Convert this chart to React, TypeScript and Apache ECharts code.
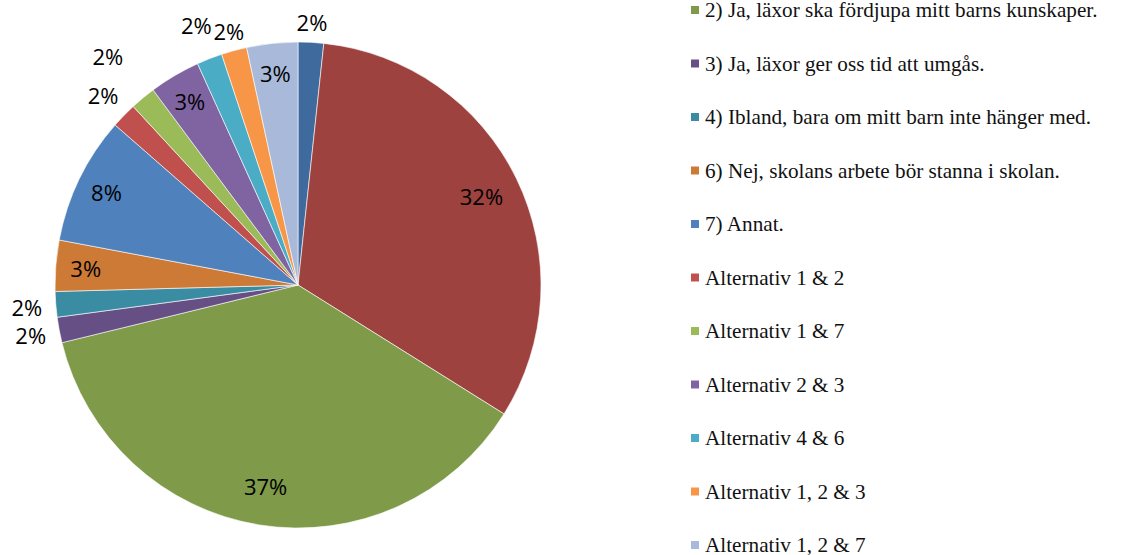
import React, { useEffect, useRef } from "react";
import * as echarts from "echarts";

const categories = [
  "Ej svar",
  "1) Ja, läxor ska repetera det barnet lärt sig i skolan.",
  "2) Ja, läxor ska fördjupa mitt barns kunskaper.",
  "3) Ja, läxor ger oss tid att umgås.",
  "4) Ibland, bara om mitt barn inte hänger med.",
  "6) Nej, skolans arbete bör stanna i skolan.",
  "7) Annat.",
  "Alternativ 1 & 2",
  "Alternativ 1 & 7",
  "Alternativ 2 & 3",
  "Alternativ 4 & 6",
  "Alternativ 1, 2 & 3",
  "Alternativ 1, 2 & 7",
];
const counts = [1, 19, 22, 1, 1, 2, 5, 1, 1, 2, 1, 1, 2];
const colors = [
  "#3E6A9D", "#9D423F", "#7F9A48", "#664F84", "#3A8CA3", "#CD7A37",
  "#4F81BD", "#C0504D", "#9BBB59", "#8064A2", "#4BACC6", "#F79646", "#A8B9D9",
];
// which label ring each percentage label sits on
const labelPlace = [
  "outA", "inBig", "inBig", "outB", "outB", "in", "in", "outB", "outD", "in", "outC", "outA", "in",
];
const legendNames = categories.slice(2);

export default function App() {
  const ref = useRef<HTMLDivElement>(null);
  useEffect(() => {
    if (!ref.current) return;
    const chart = echarts.init(ref.current, null, { renderer: "svg" });
    const center = [298, 285];
    const labelFont = {
      fontFamily: "Open Sans",
      fontSize: 22,
      color: "#000",
    };
    const ringSeries = (place: string, radius: number[]) => ({
      type: "pie",
      center,
      radius,
      startAngle: 90,
      clockwise: true,
      silent: true,
      avoidLabelOverlap: false,
      percentPrecision: 0,
      itemStyle: { color: "rgba(0,0,0,0)", borderWidth: 0 },
      labelLine: { show: false },
      emphasis: { disabled: true },
      data: counts.map((v, i) => ({
        name: categories[i],
        value: v,
        label: {
          show: labelPlace[i] === place,
          position: "inside",
          formatter: "{d}%",
          ...labelFont,
        },
      })),
    });
    chart.setOption({
      animation: false,
      backgroundColor: "#ffffff",
      legend: {
        orient: "vertical",
        left: 689,
        top: -2,
        height: 900,
        padding: 0,
        itemGap: 29.5,
        itemWidth: 10,
        itemHeight: 10,
        icon: "rect",
        selectedMode: false,
        data: legendNames,
        textStyle: {
          fontFamily: "Liberation Serif",
          fontSize: 21.2,
          lineHeight: 24,
          color: "#111",
        },
      },
      series: [
        {
          type: "pie",
          center,
          radius: 243,
          startAngle: 90,
          clockwise: true,
          silent: true,
          label: { show: false },
          labelLine: { show: false },
          itemStyle: { borderColor: "#ffffff", borderWidth: 0.6 },
          data: counts.map((v, i) => ({
            name: categories[i],
            value: v,
            itemStyle: { color: colors[i] },
          })),
        },
        ringSeries("inBig", [159, 243]),
        ringSeries("in", [177, 243]),
        ringSeries("outA", [242, 278]),
        ringSeries("outB", [251, 287]),
        ringSeries("outC", [258, 294]),
        ringSeries("outD", [277, 313]),
      ],
    });
    return () => chart.dispose();
  }, []);
  return (
    <div
      ref={ref}
      style={{ position: "fixed", left: 0, top: 0, width: 1128, height: 555 }}
    />
  );
}
